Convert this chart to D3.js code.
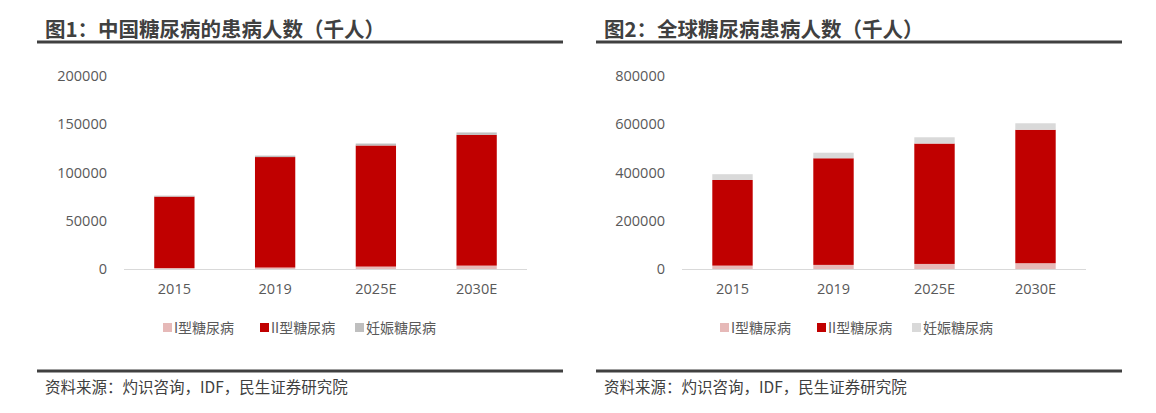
<!DOCTYPE html>
<html>
<head>
<meta charset="UTF-8" />
<script src="https://d3js.org/d3.v7.min.js"></script>
<style>
  body { margin: 0; background: #fff; }
  text { font-family: "Noto Sans CJK SC", "Noto Sans", sans-serif; }
</style>
</head>
<body>
<svg id="chart" width="1156" height="413"></svg>
<script>
const years = ['2015', '2019', '2025E', '2030E'];
const seriesNames = ['I型糖尿病', 'II型糖尿病', '妊娠糖尿病'];
// China (thousand people)
const cnType1 = [1000, 1500, 2500, 3500];
const cnType2 = [74000, 114500, 125500, 135500];
const cnGest = [1000, 1500, 2000, 2500];
// Global (thousand people)
const glType1 = [14000, 17000, 21000, 24000];
const glType2 = [355000, 442000, 499000, 553000];
const glGest = [24000, 23000, 26000, 27000];
const cnTicks = [0, 50000, 100000, 150000, 200000];
const glTicks = [0, 200000, 400000, 600000, 800000];

const svg = d3.select('#chart');

function panel(opt) {
  const g = svg.append('g');
  g.append('text').attr('x', opt.x0 + 8).attr('y', 37)
    .attr('font-size', 20.5).attr('font-weight', 'bold').attr('fill', '#404040')
    .text(opt.title);
  g.append('line').attr('x1', opt.x0).attr('x2', opt.x1).attr('y1', 42).attr('y2', 42)
    .attr('stroke', '#404040').attr('stroke-width', 3);
  g.append('line').attr('x1', opt.x0).attr('x2', opt.x1).attr('y1', 371).attr('y2', 371)
    .attr('stroke', '#404040').attr('stroke-width', 3);
  g.append('text').attr('x', opt.x0 + 8).attr('y', 393)
    .attr('font-size', 15.5).attr('fill', '#404040').text('资料来源：灼识咨询，IDF，民生证券研究院');

  const x = d3.scaleBand().domain(years).range([opt.px0, opt.px1]).paddingInner(0.6).paddingOuter(0.3);
  const y = d3.scaleLinear().domain([0, opt.ticks[opt.ticks.length - 1]]).range([269, 76]);

  g.append('g').attr('transform', `translate(${opt.px0 - 17},0)`)
    .call(d3.axisLeft(y).tickValues(opt.ticks).tickFormat(d3.format('d')).tickSize(0).tickPadding(0))
    .call(a => a.select('.domain').remove())
    .selectAll('text').attr('font-size', 14.5).attr('fill', '#595959')
    .style('font-family', '"Open Sans", "Noto Sans", sans-serif');

  const data = years.map((yr, i) => ({ yr, v: [opt.s[0][i], opt.s[1][i], opt.s[2][i]] }));
  const stack = d3.stack().keys([0, 1, 2]).value((d, k) => d.v[k])(data);
  stack.forEach((layer, k) => {
    g.append('g').attr('fill', opt.colors[k]).selectAll('rect').data(layer).join('rect')
      .attr('x', d => x(d.data.yr)).attr('width', x.bandwidth())
      .attr('y', d => y(d[1])).attr('height', d => y(d[0]) - y(d[1]));
  });

  g.append('line').attr('x1', opt.px0).attr('x2', opt.px1).attr('y1', 269.5).attr('y2', 269.5)
    .attr('stroke', '#d9d9d9');
  g.append('g').attr('transform', 'translate(0,270)')
    .call(d3.axisBottom(x).tickSize(0).tickPadding(14))
    .call(a => a.select('.domain').remove())
    .selectAll('text').attr('font-size', 14.5).attr('fill', '#595959')
    .style('font-family', '"Open Sans", "Noto Sans", sans-serif');

  const leg = g.append('g').attr('transform', `translate(${opt.legX},328)`);
  const offs = [0, 97, 192];
  seriesNames.forEach((n, k) => {
    const it = leg.append('g').attr('transform', `translate(${offs[k]},0)`);
    it.append('rect').attr('x', 0).attr('y', -5).attr('width', 9).attr('height', 9).attr('fill', opt.colors[k]);
    it.append('text').attr('x', 11).attr('y', 5).attr('font-size', 14).attr('fill', '#595959').text(n);
  });
}

panel({ x0: 37, x1: 563, px0: 124, px1: 527, title: '图1：中国糖尿病的患病人数（千人）',
  ticks: cnTicks, s: [cnType1, cnType2, cnGest], colors: ['#e6b9b8', '#c00000', '#bfbfbf'], legX: 163 });
panel({ x0: 596, x1: 1122, px0: 682, px1: 1086, title: '图2：全球糖尿病患病人数（千人）',
  ticks: glTicks, s: [glType1, glType2, glGest], colors: ['#e6b9b8', '#c00000', '#d9d9d9'], legX: 720 });
</script>
</body>
</html>
